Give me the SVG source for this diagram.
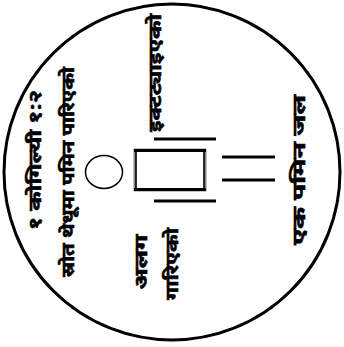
<svg xmlns="http://www.w3.org/2000/svg" width="344" height="347" viewBox="0 0 344 347">
<style>
.t{font-family:"Noto Sans Devanagari","Noto Sans","Liberation Sans",sans-serif;font-size:18px;font-weight:bold;fill:#000;stroke:#000;stroke-width:0.6;text-anchor:middle}
.ln{stroke:#000;stroke-width:3;fill:none}
</style>
<rect width="344" height="347" fill="#fff"/>
<g id="disc"><circle cx="172" cy="172" r="168" fill="none" stroke="#000" stroke-width="3"/></g>
<g id="ball"><ellipse cx="104" cy="172" rx="18.5" ry="16.5" fill="none" stroke="#000" stroke-width="1.5"/></g>
<g id="box">
<rect x="135" y="150" width="70" height="40" fill="none" stroke="#888" stroke-width="3"/>
<rect x="136" y="151" width="68" height="38" fill="none" stroke="#000" stroke-width="1.5"/>
<line class="ln" x1="134" y1="150.5" x2="206" y2="150.5"/>
<line class="ln" x1="134" y1="189.5" x2="206" y2="189.5"/>
</g>
<g id="connectors">
<line class="ln" x1="154" y1="139" x2="216" y2="139"/>
<line class="ln" x1="154" y1="201" x2="216" y2="201"/>
<line class="ln" x1="222" y1="157" x2="275" y2="157"/>
<line class="ln" x1="222" y1="180" x2="275" y2="180"/>
</g>
<g id="label-ratio"><text class="t" transform="translate(41,160) rotate(-90)" textLength="140" lengthAdjust="spacingAndGlyphs">१ कोगिल्यी १:२</text></g>
<g id="label-source"><text class="t" transform="translate(74,172) rotate(-90)" textLength="210" lengthAdjust="spacingAndGlyphs">स्रोत थेधूमा पमिन पारिएको</text></g>
<g id="label-top"><text class="t" transform="translate(161,73) rotate(-90)" textLength="118" lengthAdjust="spacingAndGlyphs">इक्टट्याइएको</text></g>
<g id="label-right"><text class="t" transform="translate(305,170) rotate(-90)" textLength="150" lengthAdjust="spacingAndGlyphs">एक पमिन जल</text></g>
<g id="label-bottom">
<text class="t" transform="translate(147,262) rotate(-90)" textLength="55" lengthAdjust="spacingAndGlyphs">अलग</text>
<text class="t" transform="translate(178,264) rotate(-90)" textLength="72" lengthAdjust="spacingAndGlyphs">गारिएको</text>
</g>
</svg>
